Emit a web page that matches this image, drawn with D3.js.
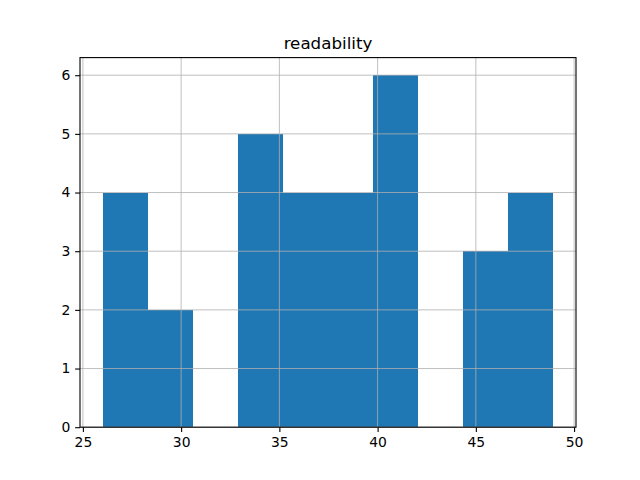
<!DOCTYPE html>
<html><head><meta charset="utf-8">
<script src="https://cdn.jsdelivr.net/npm/d3@7"></script>
<style>body{margin:0;background:#fff}svg{display:block}text{font-family:"DejaVu Sans",sans-serif}</style>
</head><body><svg id="c" width="640" height="480"></svg>
<script>
const title = "readability";
const binEdges = [26, 28.295, 30.59, 32.885, 35.18, 37.475, 39.77, 42.065, 44.36, 46.655, 48.95];
const counts = [4, 2, 0, 5, 4, 4, 6, 0, 3, 4];
const xTicks = [25, 30, 35, 40, 45, 50];
const yTicks = [0, 1, 2, 3, 4, 5, 6];

const svg = d3.select("#c");
const L = 80, R = 576, T = 57.6, B = 427.2;
const span = binEdges[binEdges.length-1] - binEdges[0];
const x = d3.scaleLinear().domain([binEdges[0] - span*0.05, binEdges[binEdges.length-1] + span*0.05]).range([L, R]);
const y = d3.scaleLinear().domain([0, d3.max(counts)*1.05]).range([B, T]);

const bins = counts.map((c,i)=>({x0:binEdges[i], x1:binEdges[i+1], c}));
svg.append("g").attr("shape-rendering", "crispEdges").selectAll("rect").data(bins).join("rect")
  .attr("x", d=>x(d.x0)).attr("width", d=>x(d.x1)-x(d.x0))
  .attr("y", d=>y(d.c)).attr("height", d=>B-y(d.c))
  .attr("fill", "#1f77b4");

// grid
const g = svg.append("g").attr("stroke", "#b0b0b0").attr("stroke-width", 0.8);
xTicks.forEach(t=>g.append("line").attr("x1", x(t)).attr("x2", x(t)).attr("y1", T).attr("y2", B));
yTicks.forEach(t=>g.append("line").attr("y1", y(t)).attr("y2", y(t)).attr("x1", L).attr("x2", R));

// axes
const xa = svg.append("g").attr("transform", `translate(0,${B})`)
  .call(d3.axisBottom(x).tickValues(xTicks).tickSize(4.86).tickPadding(4.86).tickFormat(d3.format("d")));
const ya = svg.append("g").attr("transform", `translate(${L},0)`)
  .call(d3.axisLeft(y).tickValues(yTicks).tickSize(4.86).tickPadding(4.86).tickFormat(d3.format("d")));
[xa, ya].forEach(a=>{
  a.select(".domain").remove();
  a.selectAll(".tick line").attr("stroke", "#000").attr("stroke-width", 1.1);
  a.selectAll(".tick text").attr("font-size", "13.9px").attr("fill", "#000").attr("font-family", "DejaVu Sans");
});
svg.append("rect").attr("x", L).attr("y", T).attr("width", R-L).attr("height", B-T)
  .attr("fill", "none").attr("stroke", "#000").attr("stroke-width", 1.1);

svg.append("text").attr("x", (L+R)/2).attr("y", T-8.3).attr("text-anchor", "middle")
  .attr("font-size", "16.7px").attr("fill", "#000").text(title);
</script></body></html>
